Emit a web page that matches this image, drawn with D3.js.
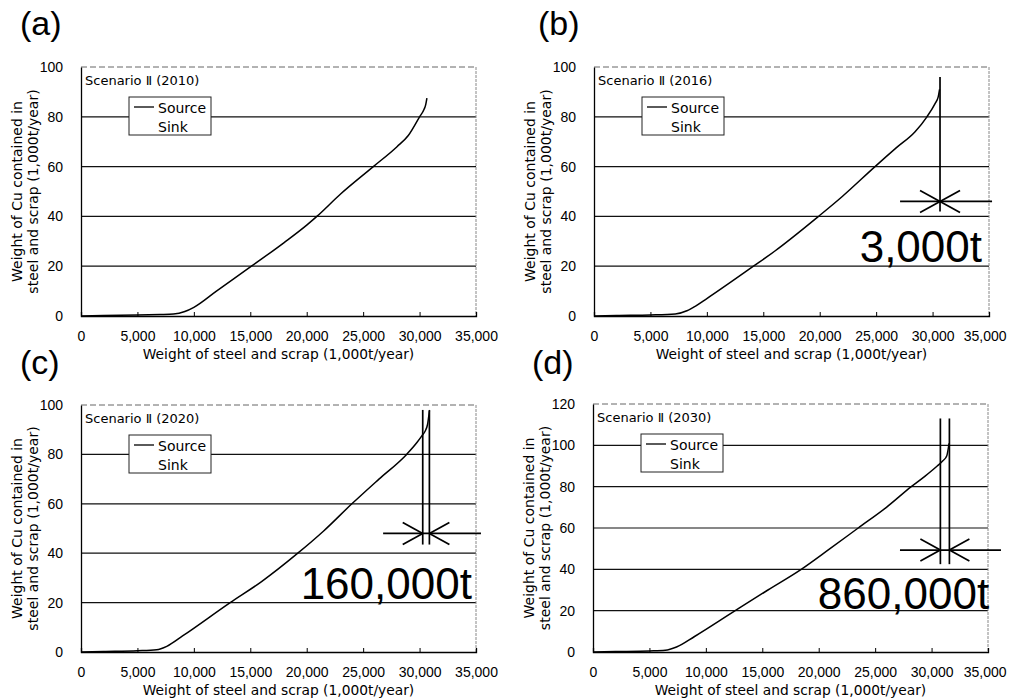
<!DOCTYPE html>
<html lang="en">
<head>
<meta charset="UTF-8">
<title>Cu in steel and scrap - source and sink</title>
<script src="https://d3js.org/d3.v7.min.js"></script>
<style>
  body{margin:0;background:#fff;}
  svg text{font-family:"DejaVu Sans",Verdana,sans-serif;fill:#000;}
  svg text.num{font-family:"Liberation Sans",Arial,sans-serif;}
</style>
</head>
<body>
<svg width="1009" height="700"></svg>
<script>
// ---- data ----
const panelIds = ["(a)", "(b)", "(c)", "(d)"];
const scenarios = ["Scenario Ⅱ (2010)", "Scenario Ⅱ (2016)", "Scenario Ⅱ (2020)", "Scenario Ⅱ (2030)"];
const legendNames = ["Source", "Sink"];
const xTicks = [0, 5000, 10000, 15000, 20000, 25000, 30000, 35000];
const yTicks100 = [0, 20, 40, 60, 80, 100];
const yTicks120 = [0, 20, 40, 60, 80, 100, 120];
const xTitle = "Weight of steel and scrap (1,000t/year)";
const yTitle = ["Weight of Cu contained in", "steel and scrap (1,000t/year)"];

// source curves (steel+scrap weight, Cu weight)
const srcA_x = [0, 2000, 5000, 7000, 8200, 9200, 10000, 12000, 15100, 18000, 20000, 20900, 23000, 25900, 28000, 29000, 30000, 30400, 30550, 30650];
const srcA_y = [0, 0.2, 0.4, 0.6, 0.8, 1.8, 3.5, 10, 20, 29.5, 36.5, 40, 49, 60, 68, 72.5, 80, 83, 85, 87.5];
const srcB_x = [0, 2000, 5000, 7200, 8230, 9000, 10000, 14130, 16000, 19890, 22000, 24900, 26800, 28450, 29500, 30220, 30500, 30620];
const srcB_y = [0, 0.2, 0.4, 0.8, 2.1, 4, 7, 20, 26, 40, 48, 60, 67.6, 74, 80, 85.3, 88, 91];
const srcC_x = [0, 2000, 5000, 6700, 7600, 9000, 13220, 16000, 19210, 21500, 24000, 26400, 28850, 29800, 30200, 30500, 30700, 30870];
const srcC_y = [0, 0.2, 0.5, 0.9, 2.3, 6.5, 20, 28.5, 40, 49, 60, 70, 80, 85, 87.5, 89.5, 92, 97.5];
const srcD_x = [0, 2000, 5000, 6400, 7400, 9000, 12600, 15500, 18450, 21000, 23500, 26000, 28200, 29400, 30500, 31000, 31350, 31550];
const srcD_y = [0, 0.2, 0.5, 0.8, 2.4, 7.5, 20, 30, 40, 50, 60, 70, 80, 85, 90, 92.5, 95, 101];

// sink lines and the gap between source end and sink
const sinkX = [[], [30660], [30280, 30870], [30780, 31580]];
const sinkTop = [0, 96, 98, 113];
const sinkBottom = [0, 42, 43.5, 42.5];
const gapY = [0, 46, 48, 49.3];
const gapFrom = [0, 27120, 26770, 27200];
const gapTo = [0, 35270, 35440, 36150];
const gapLabels = ["", "3,000t", "160,000t", "860,000t"];
const gapLabelX = [0, 34380, 34640, 35100];
const gapLabelY = [0, 21.7, 21.4, 20.7];

// ---- layout ----
const panels = [
  {left: 81,  right: 476, top: 67,  bottom: 316, yMax: 100, yTicks: yTicks100, sx: srcA_x, sy: srcA_y, lab: [20, 35]},
  {left: 594, right: 989, top: 67,  bottom: 316, yMax: 100, yTicks: yTicks100, sx: srcB_x, sy: srcB_y, lab: [538, 35]},
  {left: 81,  right: 476, top: 405, bottom: 652, yMax: 100, yTicks: yTicks100, sx: srcC_x, sy: srcC_y, lab: [20, 374]},
  {left: 593, right: 988, top: 404, bottom: 652, yMax: 120, yTicks: yTicks120, sx: srcD_x, sy: srcD_y, lab: [532, 374]}
];

const svg = d3.select("svg");
const fmt = d3.format(",");

panels.forEach(function (p, i) {
  const g = svg.append("g");
  const x = d3.scaleLinear().domain([0, 35000]).range([p.left, p.right]);
  const y = d3.scaleLinear().domain([0, p.yMax]).range([p.bottom, p.top]);

  // panel letter
  g.append("text").attr("class", "num").attr("x", p.lab[0]).attr("y", p.lab[1])
    .attr("font-size", 34).text(panelIds[i]);

  // gridlines
  g.append("g").selectAll("line")
    .data(p.yTicks.filter(d => d > 0 && d < p.yMax))
    .join("line")
    .attr("x1", p.left).attr("x2", p.right)
    .attr("y1", d => y(d)).attr("y2", d => y(d))
    .attr("stroke", "#111").attr("stroke-width", 1.2);

  // frame: faint top and right edges
  g.append("line").attr("x1", p.left).attr("x2", p.right).attr("y1", p.top).attr("y2", p.top)
    .attr("stroke", "#666").attr("stroke-dasharray", "6,3");
  g.append("line").attr("x1", p.right).attr("x2", p.right).attr("y1", p.top).attr("y2", p.bottom)
    .attr("stroke", "#888").attr("stroke-dasharray", "3,1");

  // axes
  const xAxis = g.append("g").attr("transform", `translate(0,${p.bottom})`)
    .call(d3.axisBottom(x).tickValues(xTicks).tickFormat(fmt).tickSize(-4).tickPadding(12));
  xAxis.select(".domain").attr("stroke", "#000").attr("stroke-width", 1.3);
  xAxis.selectAll("text").attr("class", "num").attr("font-size", 14).attr("dy", "0.9em");
  if (p.right > 980) {
    // keep the last label inside the page, as in the original
    xAxis.selectAll(".tick:last-of-type text").attr("text-anchor", "end").attr("x", 1006 - p.right);
  }
  const yAxis = g.append("g").attr("transform", `translate(${p.left},0)`)
    .call(d3.axisLeft(y).tickValues(p.yTicks).tickSize(0).tickPadding(18));
  yAxis.select(".domain").attr("stroke", "#000").attr("stroke-width", 1.3);
  yAxis.selectAll("text").attr("class", "num").attr("font-size", 14);
  g.selectAll(".tick text").attr("font-family", null);

  // axis titles
  g.append("text").attr("x", (p.left + p.right) / 2).attr("y", p.bottom + 43)
    .attr("text-anchor", "middle").attr("font-size", 13.8).text(xTitle);
  yTitle.forEach(function (t, k) {
    const cx = p.left - 64 + k * 16.5, cy = (p.top + p.bottom) / 2;
    g.append("text").attr("transform", `translate(${cx},${cy}) rotate(-90)`)
      .attr("text-anchor", "middle").attr("dy", "0.35em").attr("font-size", 14).text(t);
  });

  // scenario label
  g.append("text").attr("x", p.left + 4).attr("y", p.top + 18)
    .attr("font-size", 13).text(scenarios[i]);

  // source curve
  const pts = p.sx.map((v, k) => [v, p.sy[k]]);
  g.append("path").datum(pts)
    .attr("d", d3.line().x(d => x(d[0])).y(d => y(d[1])).curve(d3.curveMonotoneX))
    .attr("fill", "none").attr("stroke", "#000").attr("stroke-width", 1.5);

  // sink lines and gap arrows
  if (sinkX[i].length) {
    sinkX[i].forEach(function (sx) {
      g.append("line").attr("x1", x(sx)).attr("x2", x(sx))
        .attr("y1", y(sinkTop[i])).attr("y2", y(sinkBottom[i]))
        .attr("stroke", "#000").attr("stroke-width", 1.7);
    });
    const yy = y(gapY[i]);
    const xl = x(sinkX[i][0]), xr = x(sinkX[i][sinkX[i].length - 1]);
    g.append("line").attr("x1", x(gapFrom[i])).attr("x2", x(gapTo[i]))
      .attr("y1", yy).attr("y2", yy).attr("stroke", "#000").attr("stroke-width", 1.7);
    const heads = [[xl, -20], [xr, 20]];
    heads.forEach(function (h) {
      [-11, 11].forEach(function (dy) {
        g.append("line").attr("x1", h[0] + h[1]).attr("y1", yy + dy)
          .attr("x2", h[0]).attr("y2", yy)
          .attr("stroke", "#000").attr("stroke-width", 1.7);
      });
    });
    g.append("text").attr("class", "num").attr("x", x(gapLabelX[i])).attr("y", y(gapLabelY[i]))
      .attr("text-anchor", "end").attr("font-size", 44).text(gapLabels[i]);
  }

  // legend
  const lg = g.append("g").attr("transform", `translate(${p.left + 48},${p.top + 30})`);
  lg.append("rect").attr("width", 82).attr("height", 38)
    .attr("fill", "#fff").attr("stroke", "#222").attr("stroke-width", 1);
  lg.append("line").attr("x1", 5).attr("x2", 25).attr("y1", 10).attr("y2", 10)
    .attr("stroke", "#000").attr("stroke-width", 1.3);
  legendNames.forEach(function (n, k) {
    lg.append("text").attr("x", 29).attr("y", 16 + k * 18.5).attr("font-size", 14).text(n);
  });
});
</script>
</body>
</html>
